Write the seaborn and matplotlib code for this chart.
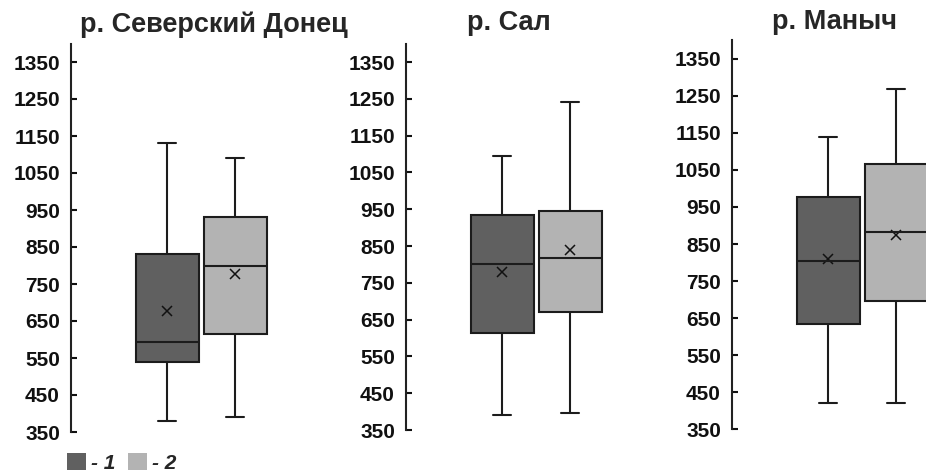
import pandas as pd
import numpy as np
import matplotlib.pyplot as plt
import seaborn as sns
from matplotlib.patches import Patch

# five-number summaries (whisker low, Q1, median, Q3, whisker high) + mean
rivers = ['р. Северский Донец', 'р. Сал', 'р. Маныч']
groups = ['1', '2']
whisker_low = [[380, 391], [390, 395], [420, 421]]
q1 = [[539, 614], [614, 671], [634, 696]]
median = [[592, 799], [800, 818], [803, 883]]
q3 = [[831, 932], [934, 945], [977, 1065]]
whisker_high = [[1130, 1090], [1095, 1242], [1139, 1267]]
means = [[677, 777], [778, 839], [809, 873]]
yticks = [350, 450, 550, 650, 750, 850, 950, 1050, 1150, 1250, 1350]

colors = {'1': '#606060', '2': '#b3b3b3'}
edge = '#1c1c1c'

rows = []
for i, r in enumerate(rivers):
    for j, g in enumerate(groups):
        for v in [whisker_low[i][j], q1[i][j], median[i][j], q3[i][j], whisker_high[i][j]]:
            rows.append({'river': r, 'group': g, 'value': v})
df = pd.DataFrame(rows)

mean_rows = []
for i, r in enumerate(rivers):
    for j, g in enumerate(groups):
        mean_rows.append({'river': r, 'group': g, 'mean': means[i][j]})
df_mean = pd.DataFrame(mean_rows)

sns.set_style('white')
plt.rcParams['font.family'] = ['Liberation Sans', 'DejaVu Sans']
plt.rcParams['font.weight'] = 'bold'

W, H = 926, 475
fig = plt.figure(figsize=(W / 100, H / 100), dpi=100)

# layout in pixels: spine x, axes width, top y, bottom y, title centre x, title baseline y
panels = [
    (71, 240, 43.5, 432, 214, 32),
    (406, 240, 43.6, 430, 509, 30),
    (732, 194, 40.2, 429.3, 835, 29),
]
unit = 68.0   # px between the two boxes
offset = 96.0  # px from spine to first box centre

for i, r in enumerate(rivers):
    x0, w, top, bot, tx, ty = panels[i]
    ax = fig.add_axes([x0 / W, (H - bot) / H, w / W, (bot - top) / H])
    sub = df[df['river'] == r]
    sns.boxplot(data=sub, x='group', y='value', hue='group', order=groups,
                hue_order=groups, palette=colors, width=63 / unit, whis=(0, 100),
                linewidth=1.5, linecolor=edge, legend=False, ax=ax,
                capwidths=0.26)
    sns.pointplot(data=df_mean[df_mean['river'] == r], x='group', y='mean',
                  order=groups, color='#111111', markers='x', linestyles='none',
                  errorbar=None, markersize=7, markeredgewidth=1.1, ax=ax)
    ax.set_xlim(-offset / unit, (w - offset) / unit)
    ax.set_ylim(350, 1400)
    ax.set_yticks(yticks)
    ax.set_yticklabels([str(t) for t in yticks], fontsize=15, fontweight='bold')
    ax.set_xticks([])
    ax.set_xlabel('')
    ax.set_ylabel('')
    ax.tick_params(axis='y', left=True, direction='in', length=4, width=1.5,
                   pad=8, colors='#111111')
    sns.despine(ax=ax, bottom=True)
    ax.spines['left'].set_linewidth(1.5)
    ax.spines['left'].set_color('#222222')
    ax.spines['left'].set_bounds(350, 1400)
    fig.text(tx / W, 1 - ty / H, r, ha='center', va='baseline',
             fontsize=19.5, fontweight='bold')

handles = [Patch(facecolor=colors[g], edgecolor='none') for g in groups]
fig.legend(handles, ['- ' + g for g in groups], loc='lower left',
           bbox_to_anchor=(67 / W, 2 / H), ncol=2, frameon=False,
           borderpad=0, borderaxespad=0, handlelength=0.9, handleheight=0.9,
           handletextpad=0.25, columnspacing=0.6,
           prop={'weight': 'bold', 'style': 'italic', 'size': 15})

fig.savefig('out.png', dpi=100)
